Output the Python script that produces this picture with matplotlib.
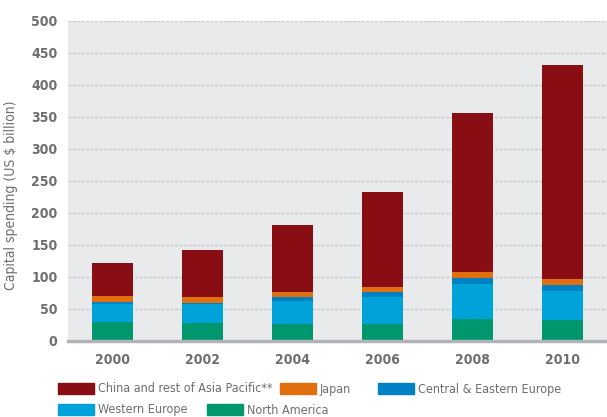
import matplotlib.pyplot as plt
from matplotlib.patches import Rectangle
import numpy as np

years = ['2000', '2002', '2004', '2006', '2008', '2010']
north_america = [30, 28, 27, 27, 34, 33]
western_europe = [28, 30, 36, 42, 55, 45]
central_eastern_europe = [3.5, 1.5, 5, 8, 9, 9.5]
japan = [9, 9, 9, 8, 9.5, 9.5]
china_asia_pacific = [52, 73, 105, 148, 248, 334]

series_names = ['North America', 'Western Europe', 'Central & Eastern Europe',
                'Japan', 'China and rest of Asia Pacific**']
series_values = [north_america, western_europe, central_eastern_europe,
                 japan, china_asia_pacific]
colors = ['#00976F', '#00A2DA', '#0081C3', '#DF6F0F', '#880E14']

text_color = '#6D6E71'
plt.rcParams['font.family'] = ['DejaVu Sans']
plt.rcParams['font.stretch'] = 'condensed'

fig = plt.figure(figsize=(6.07, 4.17), dpi=100)
ax = fig.add_axes([68 / 607, 76 / 417, 539 / 607, 320 / 417])
ax.set_facecolor('#E9EAEC')

x = np.arange(len(years))
bottom = np.zeros(len(years))
for name, vals, c in zip(series_names, series_values, colors):
    ax.bar(x, vals, 0.457, bottom=bottom, color=c, label=name, zorder=3)
    bottom += np.array(vals)

ax.set_xlim(-0.5, 5.5)
ax.set_ylim(0, 500)
ax.set_yticks(range(0, 501, 50))
ax.set_xticks(x, years)
ax.yaxis.grid(True, color='#C8C9CB', linestyle=(0, (2, 1.2)), linewidth=1, zorder=1)
ax.set_axisbelow(True)

for s in ['top', 'right', 'left']:
    ax.spines[s].set_visible(False)
ax.spines['bottom'].set_color('#B1B3B6')
ax.spines['bottom'].set_linewidth(2.5)
ax.spines['bottom'].set_zorder(4)
ax.tick_params(length=0, colors=text_color, labelsize=10)
ax.tick_params(axis='x', pad=9)
ax.tick_params(axis='y', pad=7.5)
for lbl in ax.get_xticklabels() + ax.get_yticklabels():
    lbl.set_fontweight('bold')

ax.set_ylabel('Capital spending (US $ billion)', color=text_color, fontsize=10)
ax.yaxis.set_label_coords(-50 / 539, 0.456)

# legend drawn as a two-row flow layout
legend_order = [4, 3, 2, 1, 0]
legend_pos = [(58, 389), (280, 389), (378, 389), (58, 410), (207, 410)]
W, H = 607, 417
for idx, (px, py) in zip(legend_order, legend_pos):
    fig.add_artist(Rectangle((px / W, 1 - (py + 5) / H), 36 / W, 11 / H,
                             transform=fig.transFigure, color=colors[idx]))
    fig.text((px + 40) / W, 1 - py / H, series_names[idx], color=text_color,
             fontsize=9, va='center', ha='left')

fig.savefig('out.png', dpi=100)
